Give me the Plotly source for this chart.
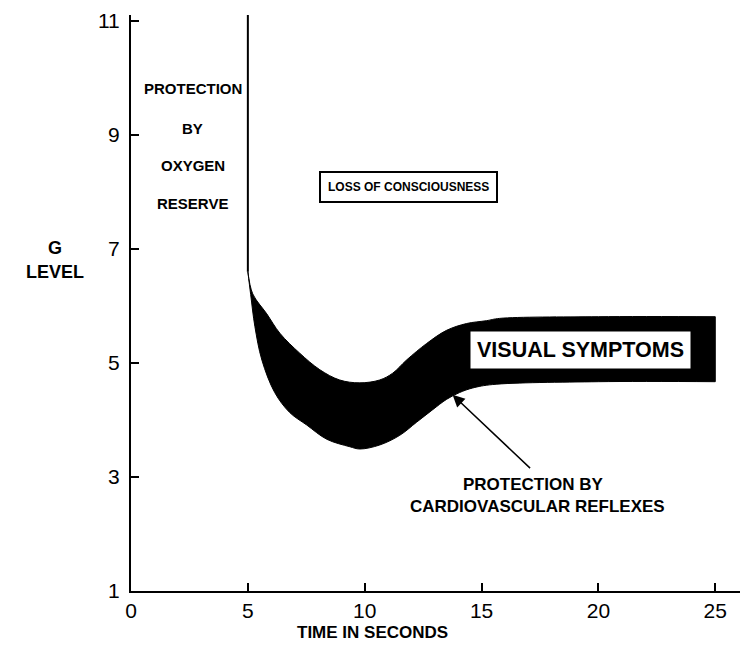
import plotly.graph_objects as go

# Tolerance band edges (time in s, G level)
upper_time = [5.0, 5.21, 5.81, 6.37, 7.22, 8.08, 8.93, 9.79, 10.64, 11.2, 11.79, 12.65, 13.5, 14.36, 15.21, 15.77, 20.0, 25.0]
upper_g = [6.6, 6.21, 5.86, 5.52, 5.17, 4.88, 4.7, 4.65, 4.7, 4.82, 5.05, 5.34, 5.57, 5.69, 5.74, 5.78, 5.81, 5.81]

lower_time = [5.0, 5.12, 5.3, 5.6, 6.15, 6.79, 7.52, 8.38, 9.36, 9.79, 10.64, 11.5, 12.22, 12.91, 13.5, 14.06, 14.62, 15.47, 20.0, 25.0]
lower_g = [6.6, 6.2, 5.64, 5.05, 4.48, 4.13, 3.91, 3.66, 3.53, 3.49, 3.56, 3.73, 3.96, 4.18, 4.36, 4.48, 4.56, 4.62, 4.67, 4.67]

# oxygen reserve boundary
reserve_time = [5, 5]
reserve_g = [6.6, 11.1]

x_ticks = [0, 5, 10, 15, 20, 25]
y_ticks = [1, 3, 5, 7, 9, 11]

FONT = "Liberation Sans"
W, H = 740, 651
L, R, T, B = 123, 0, 7, 68
PW, PH = W - L - R, H - T - B
OFF = 8  # page body margin


def paper(px, py):
    # window pixel -> paper coords
    return (px - OFF - L) / PW, (T + PH - (py - OFF)) / PH


fig = go.Figure()

upper = go.Scatter(x=upper_time, y=upper_g, mode="lines", line_shape="spline",
                   line=dict(color="black", width=1), hoverinfo="skip")
fig.add_trace(go.Scatter(x=lower_time, y=lower_g, mode="lines", line_shape="spline",
                         line=dict(color="black", width=1), hoverinfo="skip"))
upper.update(fill="tonexty", fillcolor="black")
fig.add_trace(upper)
# right end of band
fig.add_trace(go.Scatter(x=[upper_time[-1], lower_time[-1]], y=[upper_g[-1], lower_g[-1]],
                         mode="lines", line=dict(color="black", width=1), hoverinfo="skip"))

fig.add_trace(go.Scatter(
    x=reserve_time, y=reserve_g, mode="lines",
    line=dict(color="black", width=2), hoverinfo="skip"
))


def label(x, y, text, size, family=FONT, **kw):
    fig.add_annotation(x=x, y=y, xref="x", yref="y", text=text, showarrow=False,
                       xanchor="center", yanchor="middle",
                       font=dict(family=family, size=size, color="black"), **kw)


def plabel(px, py, text, size, family=FONT):
    x, y = paper(px, py)
    fig.add_annotation(x=x, y=y, xref="paper", yref="paper", text=text, showarrow=False,
                       xanchor="center", yanchor="middle",
                       font=dict(family=family, size=size, color="black"))


# oxygen reserve text
for yy, word in zip([9.82, 9.11, 8.46, 7.8], ["PROTECTION", "BY", "OXYGEN", "RESERVE"]):
    label(2.65, yy, "<b>%s</b>" % word, 15)

label(11.88, 8.09, "<b>LOSS OF CONSCIOUSNESS</b>", 12,
      bordercolor="black", borderwidth=2, borderpad=7, bgcolor="white")

label(19.23, 5.22, "<b>VISUAL SYMPTOMS</b>", 21.5, bgcolor="white", borderpad=6)

# arrow to band
fig.add_annotation(x=13.76, y=4.44, ax=17.14, ay=3.13, xref="x", yref="y",
                   axref="x", ayref="y", text="", showarrow=True,
                   arrowhead=2, arrowsize=1.6, arrowwidth=1.5, arrowcolor="black")
label(17.18, 2.87, "<b>PROTECTION BY</b>", 17)
label(17.39, 2.49, "<b>CARDIOVASCULAR REFLEXES</b>", 17)

plabel(55, 248, "<b>G</b>", 18)
plabel(55, 272, "<b>LEVEL</b>", 18)
plabel(372, 632, "<b>TIME IN SECONDS</b>", 17)

fig.update_layout(
    width=W, height=H,
    margin=dict(l=L, r=R, t=T, b=B, autoexpand=False),
    plot_bgcolor="white", paper_bgcolor="white",
    showlegend=False,
    xaxis=dict(range=[0, 26.4], tickvals=x_ticks, ticks="inside", ticklen=8,
               tickwidth=1.5, tickcolor="black", showline=True, linewidth=2,
               linecolor="black", showgrid=False, zeroline=False,
               automargin=False, ticklabeloverflow="allow",
               tickfont=dict(family=FONT, size=21, color="black")),
    yaxis=dict(range=[1, 11.1], tickvals=y_ticks, ticks="inside", ticklen=8,
               tickwidth=1.5, tickcolor="black", showline=True, linewidth=2,
               linecolor="black", showgrid=False, zeroline=False,
               automargin=False, ticklabelstandoff=5, ticklabeloverflow="allow",
               tickfont=dict(family=FONT, size=21, color="black")),
)

fig.write_html("out.html")
